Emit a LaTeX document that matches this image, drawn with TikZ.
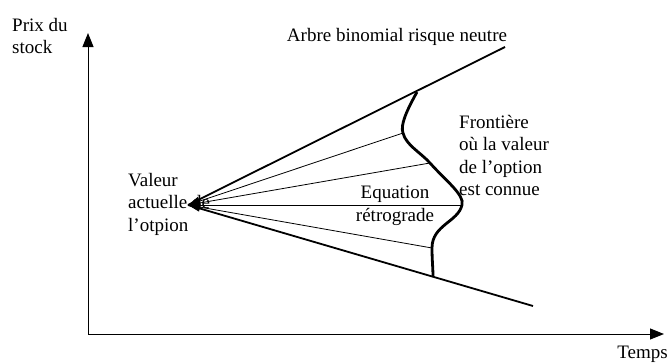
\documentclass[tikz,border=0pt]{standalone}
\usepackage{fontspec}
\setmainfont{Liberation Serif}
\usetikzlibrary{arrows.meta}
\begin{document}
\begin{tikzpicture}[x=1pt,y=-1pt,
  lbl/.style={inner sep=0pt,font=\fontsize{19}{22.5}\selectfont,align=left},
  axis/.style={line width=1pt,-{Triangle[length=14pt,width=11pt]}},
  bound/.style={line width=1.8pt},
  ray/.style={line width=0.8pt,-{Triangle[length=12pt,width=9pt]}},
  front/.style={line width=2.8pt}]
\useasboundingbox (0,0) rectangle (670,362);
% axes
\coordinate (o) at (88,334);
\coordinate (ytop) at (88,33);
\coordinate (xend) at (664,334);
\draw[axis] (o) -- (ytop);
\draw[axis] (o) -- (xend);
% labels
\node[lbl,anchor=north west] (prix) at (12,18) {Prix du\\stock};
\node[lbl,anchor=north east] (temps) at (668,346) {Temps};
\node[lbl,anchor=north] (arbre) at (397,28) {Arbre binomial risque neutre};
\node[lbl,anchor=north west] (front) at (459,115) {Frontière\\où la valeur\\de l’option\\est connue};
\node[lbl,anchor=north,align=center] (eq) at (395,186) {Equation\\rétrograde};
\node[lbl,anchor=north west] (val) at (128,173) {Valeur\\actuelle de\\l’otpion};
% apex and tree bounds
\coordinate (apex) at (188,205);
\coordinate (up) at (505,47);
\coordinate (low) at (533,306);
\draw[bound] (apex) -- (up);
\draw[bound] (apex) -- (low);
% frontier points
\coordinate (f0) at (417,92);
\coordinate (f1) at (403,133);
\coordinate (f2) at (430,163);
\coordinate (f3) at (462,205);
\coordinate (f4) at (432,248);
\coordinate (f5) at (433,277);
\draw[front] (f0) .. controls (407,110) and (400,125) .. (f1)
  .. controls (406,145) and (420,152) .. (f2)
  .. controls (445,180) and (465,195) .. (f3)
  .. controls (458,222) and (432,225) .. (f4)
  .. controls (432,260) and (433,268) .. (f5);
% backward rays
\draw[ray] (f1) -- (apex);
\draw[ray] (f2) -- (apex);
\draw[ray] (f3) -- (apex);
\draw[ray] (f4) -- (apex);
\end{tikzpicture}
\end{document}
